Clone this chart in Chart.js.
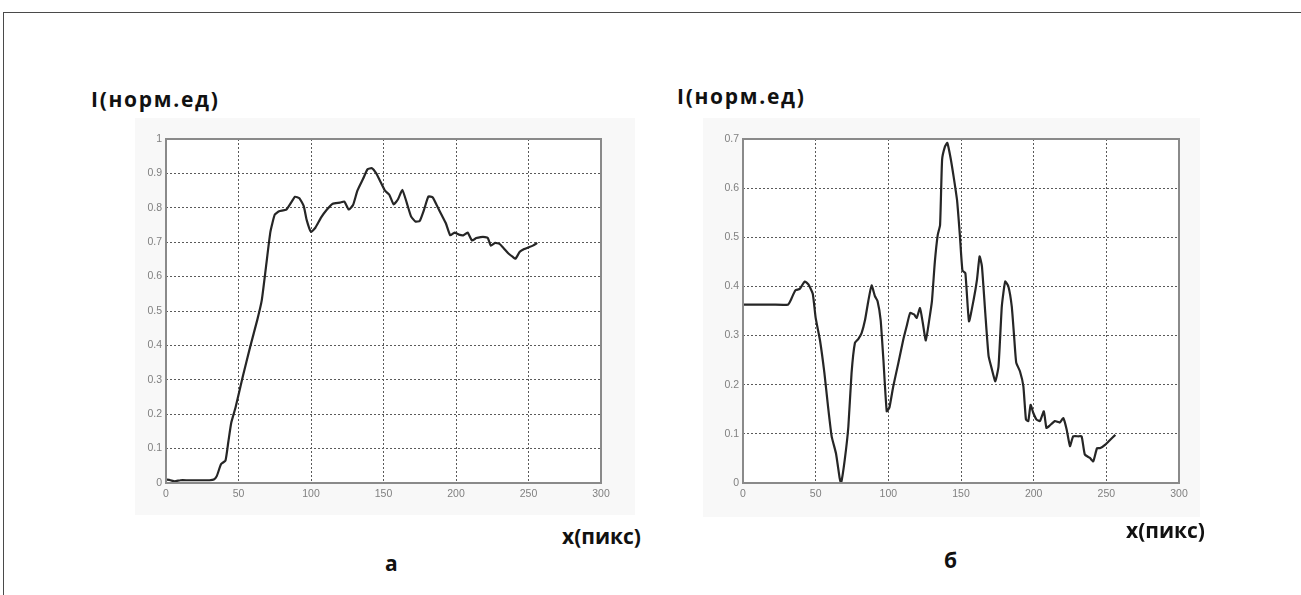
<!DOCTYPE html>
<html>
<head>
<meta charset="utf-8">
<script src="https://cdn.jsdelivr.net/npm/chart.js@4.4.1/dist/chart.umd.min.js"></script>
<style>
  body { margin: 0; background: #fff; width: 1301px; height: 595px; overflow: hidden; position: relative; font-family: "Open Sans", sans-serif; }
  .frame { position: absolute; left: 3px; top: 12px; width: 1310px; height: 600px; border-left: 1.5px solid #4a4a4a; border-top: 1.5px solid #4a4a4a; }
  .panel { position: absolute; background: #f8f8f8; }
  .lbl { position: absolute; font-weight: bold; color: #111; white-space: nowrap; line-height: 1; }
</style>
</head>
<body>
<div class="frame"></div>
<div class="panel" style="left:135px; top:118px; width:500px; height:397px;"><canvas id="chartA" width="500" height="397"></canvas></div>
<div class="panel" style="left:703px; top:118px; width:497px; height:399px;"><canvas id="chartB" width="497" height="399"></canvas></div>

<div class="lbl" style="left:91px; top:89px; font-size:21px; letter-spacing:1.7px;">I(норм.ед)</div>
<div class="lbl" style="left:677px; top:86px; font-size:21px; letter-spacing:1.7px;">I(норм.ед)</div>
<div class="lbl" style="left:562px; top:526px; font-size:21px;">x(пикс)</div>
<div class="lbl" style="left:1126px; top:520px; font-size:21px;">x(пикс)</div>
<div class="lbl" style="left:385px; top:553px; font-size:21px;">а</div>
<div class="lbl" style="left:944px; top:550px; font-size:21px;">б</div>

<script>
// график а
const xA = [0, 3, 6, 10, 15, 20, 25, 30, 33, 35, 38, 41, 43, 45, 48, 53, 58, 63, 66, 69, 72, 75, 78, 83, 87, 89, 92, 95, 97, 100,
  103, 107, 111, 115, 120, 123, 126, 129, 132, 136, 139, 142, 145, 148, 151, 154, 157, 160, 163, 166, 169, 172, 175, 178, 181,
  184, 187, 190, 193, 196, 199, 202, 205, 208, 211, 214, 217, 220, 222, 224, 227, 230, 233, 236, 239, 241, 244, 247, 250, 253, 256];
const yA = [0.01, 0.008, 0.005, 0.008, 0.008, 0.008, 0.008, 0.008, 0.01, 0.02, 0.055, 0.065, 0.12, 0.175, 0.22, 0.31, 0.395, 0.475, 0.53, 0.63, 0.73, 0.78, 0.79, 0.795, 0.82, 0.832, 0.828, 0.805, 0.765, 0.73,
  0.742, 0.772, 0.795, 0.812, 0.815, 0.818, 0.795, 0.808, 0.85, 0.885, 0.912, 0.915, 0.9, 0.875, 0.85, 0.838, 0.81, 0.825, 0.852, 0.815, 0.775, 0.76, 0.762, 0.795, 0.833,
  0.83, 0.805, 0.78, 0.755, 0.72, 0.728, 0.722, 0.72, 0.728, 0.705, 0.712, 0.715, 0.715, 0.712, 0.69, 0.698, 0.695, 0.682, 0.668, 0.658, 0.652, 0.672, 0.68, 0.685, 0.69, 0.698];

// график б
const xB = [0, 10, 20, 31, 33, 36, 39, 42.5, 45, 48, 50, 53, 56, 58.5, 61, 64, 66.5, 67.5, 70, 72.5, 74.7, 77, 79.3, 81.6, 84, 86.2, 88.5, 90.8, 92.6, 94.7,
  96.6, 98.9, 100.7, 103.4, 106.9, 110.3, 112.6, 115, 117.7, 119.5, 121.8, 123.7, 125.8, 128.3, 130, 132, 134, 135.6, 137, 139, 140.6, 142.8, 145, 147.3, 149.2,
  151, 153, 155.5, 158.7, 161, 162.8, 164.4, 166.7, 169, 171.3, 173.6, 175.8, 178.1, 180.4, 182.6, 184.9, 186.5, 188, 190.6, 192.9, 194.7, 196.3, 197.9, 199.7,
  202, 204.3, 207, 208.8, 211.1, 214.6, 218, 220.4, 222.7, 225, 227.2, 230.7, 233, 235.2, 238.7, 241, 243.6, 245.9, 249.3, 252.7, 256.2];
const yB = [0.363, 0.363, 0.363, 0.363, 0.373, 0.392, 0.395, 0.41, 0.404, 0.385, 0.336, 0.29, 0.224, 0.156, 0.095, 0.06, 0.01, 0, 0.047, 0.115, 0.224, 0.285, 0.293, 0.305, 0.332, 0.37, 0.402, 0.38, 0.37, 0.332,
  0.251, 0.146, 0.153, 0.197, 0.244, 0.292, 0.319, 0.346, 0.343, 0.336, 0.356, 0.326, 0.29, 0.335, 0.37, 0.45, 0.505, 0.525, 0.658, 0.685, 0.692, 0.662, 0.622, 0.575, 0.505,
  0.432, 0.427, 0.329, 0.373, 0.414, 0.461, 0.441, 0.346, 0.258, 0.231, 0.207, 0.237, 0.36, 0.41, 0.40, 0.36, 0.30, 0.245, 0.227, 0.197, 0.129, 0.126, 0.159, 0.143,
  0.129, 0.126, 0.146, 0.112, 0.117, 0.126, 0.123, 0.132, 0.109, 0.075, 0.095, 0.095, 0.095, 0.058, 0.051, 0.044, 0.071, 0.071, 0.078, 0.088, 0.098];

const xTicks = [0, 50, 100, 150, 200, 250, 300];

// белое поле графика и серая рамка, как в matlab
const boxPlugin = {
  id: 'box',
  beforeDraw(chart) {
    const a = chart.chartArea, c = chart.ctx;
    c.save();
    c.fillStyle = '#ffffff';
    c.fillRect(a.left, a.top, a.right - a.left, a.bottom - a.top);
    c.restore();
  },
  afterDraw(chart) {
    const a = chart.chartArea, c = chart.ctx;
    c.save();
    c.strokeStyle = '#8a8a8a';
    c.lineWidth = 2;
    c.strokeRect(a.left, a.top, a.right - a.left, a.bottom - a.top);
    c.restore();
  }
};

function makeChart(id, xs, ys, yMax, yWidth, xHeight, pad) {
  const pts = xs.map((x, i) => ({ x: x, y: ys[i] }));
  const grid = { color: '#5a5a5a', lineWidth: 1, drawTicks: false };
  const border = { display: false, dash: [2, 2] };
  const tickFont = { size: 10.5, family: 'Liberation Sans' };
  return new Chart(document.getElementById(id), {
    type: 'line',
    data: { datasets: [{ data: pts, borderColor: '#262626', borderWidth: 2.2, pointRadius: 0, tension: 0.15, fill: false }] },
    options: {
      responsive: false,
      devicePixelRatio: 1,
      animation: false,
      layout: { padding: pad },
      plugins: { legend: { display: false }, tooltip: { enabled: false } },
      scales: {
        x: {
          type: 'linear', min: 0, max: 300,
          afterBuildTicks: s => { s.ticks = xTicks.map(v => ({ value: v })); },
          afterFit: s => { s.height = xHeight; },
          grid: grid, border: border,
          ticks: { color: '#808080', font: tickFont, padding: 5, maxRotation: 0 }
        },
        y: {
          min: 0, max: yMax,
          afterFit: s => { s.width = yWidth; },
          grid: grid, border: border,
          ticks: { stepSize: 0.1, color: '#808080', font: tickFont, padding: 4,
            callback: v => +v.toFixed(1) + '' }
        }
      }
    },
    plugins: [boxPlugin]
  });
}

window.onload = () => {
  makeChart('chartA', xA, yA, 1, 31, 32, { left: 0, top: 21, right: 34, bottom: 0 });
  makeChart('chartB', xB, yB, 0.7, 40, 34, { left: 0, top: 21, right: 21, bottom: 0 });
};
</script>
</body>
</html>
